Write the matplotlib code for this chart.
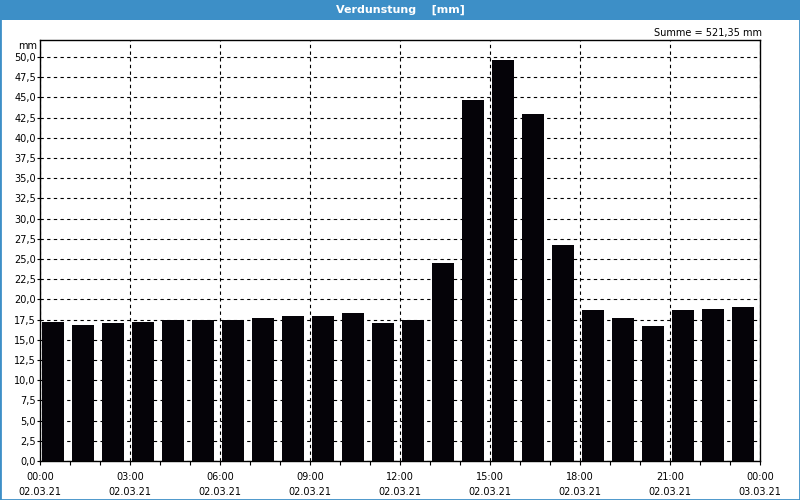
import matplotlib
matplotlib.use("Agg")
import matplotlib.pyplot as plt
from matplotlib.patches import Rectangle
from matplotlib.ticker import MultipleLocator, FuncFormatter

# Data
hours = list(range(24))
values = [17.17, 16.80, 17.05, 17.17, 17.46, 17.50, 17.50, 17.75, 17.90, 17.90,
          18.30, 17.05, 17.46, 24.54, 44.67, 49.68, 42.96, 26.72, 18.70, 17.75,
          16.75, 18.70, 18.86, 19.10]
tick_hours = [0, 3, 6, 9, 12, 15, 18, 21, 24]
tick_labels = ["00:00\n02.03.21", "03:00\n02.03.21", "06:00\n02.03.21",
               "09:00\n02.03.21", "12:00\n02.03.21", "15:00\n02.03.21",
               "18:00\n02.03.21", "21:00\n02.03.21", "00:00\n03.03.21"]
title = "Verdunstung    [mm]"
sum_text = "Summe = 521,35 mm"

plt.rcParams['font.family'] = ['DejaVu Sans']
W, H = 800, 500
fig = plt.figure(figsize=(8, 5), dpi=100, facecolor="white")

# title bar
fig.patches.append(Rectangle((0, 1 - 20 / H), 1, 20 / H, transform=fig.transFigure,
                             facecolor="#3d8fc7", edgecolor="none", zorder=0))
# frame
fig.patches.append(Rectangle((0, 0), 1, 1, transform=fig.transFigure,
                             facecolor="none", edgecolor="#3d8fc7", linewidth=2, zorder=5))
fig.text(0.5, 1 - 10 / H, title, color="white", fontsize=8, fontweight="bold",
         ha="center", va="center")
fig.text(762 / W, 1 - 33 / H, sum_text, fontsize=7, ha="right", va="center")

ax = fig.add_axes([40 / W, 39 / H, 720 / W, 421 / H])
ax.set_facecolor("white")
ax.bar([h + 0.067 for h in hours], values, width=0.733, align="edge",
       color="#050308", edgecolor="none", zorder=3)
ax.set_xlim(0, 24)
ax.set_ylim(0, 421 / 8.08)

ax.yaxis.set_major_locator(MultipleLocator(2.5))
ax.yaxis.set_major_formatter(FuncFormatter(lambda v, p: f"{v:.1f}".replace(".", ",")))
ax.set_xticks(tick_hours)
ax.set_xticklabels(tick_labels, fontsize=7, linespacing=1.65)
ax.xaxis.set_minor_locator(MultipleLocator(1))
ax.tick_params(axis="x", which="both", length=3, width=0.8, direction="out", pad=5)
ax.tick_params(axis="y", which="both", length=2, width=0.8, direction="out", labelsize=7, pad=1)
ax.grid(True, axis="both", which="major", color="black", linestyle=(0, (3, 3)),
        linewidth=0.8, zorder=1)
for s in ax.spines.values():
    s.set_linewidth(1)
    s.set_color("black")
    s.set_zorder(4)

fig.text(37 / W, 1 - 46 / H, "mm", fontsize=7, ha="right", va="center")

fig.savefig("out.png", dpi=100, facecolor="white")
